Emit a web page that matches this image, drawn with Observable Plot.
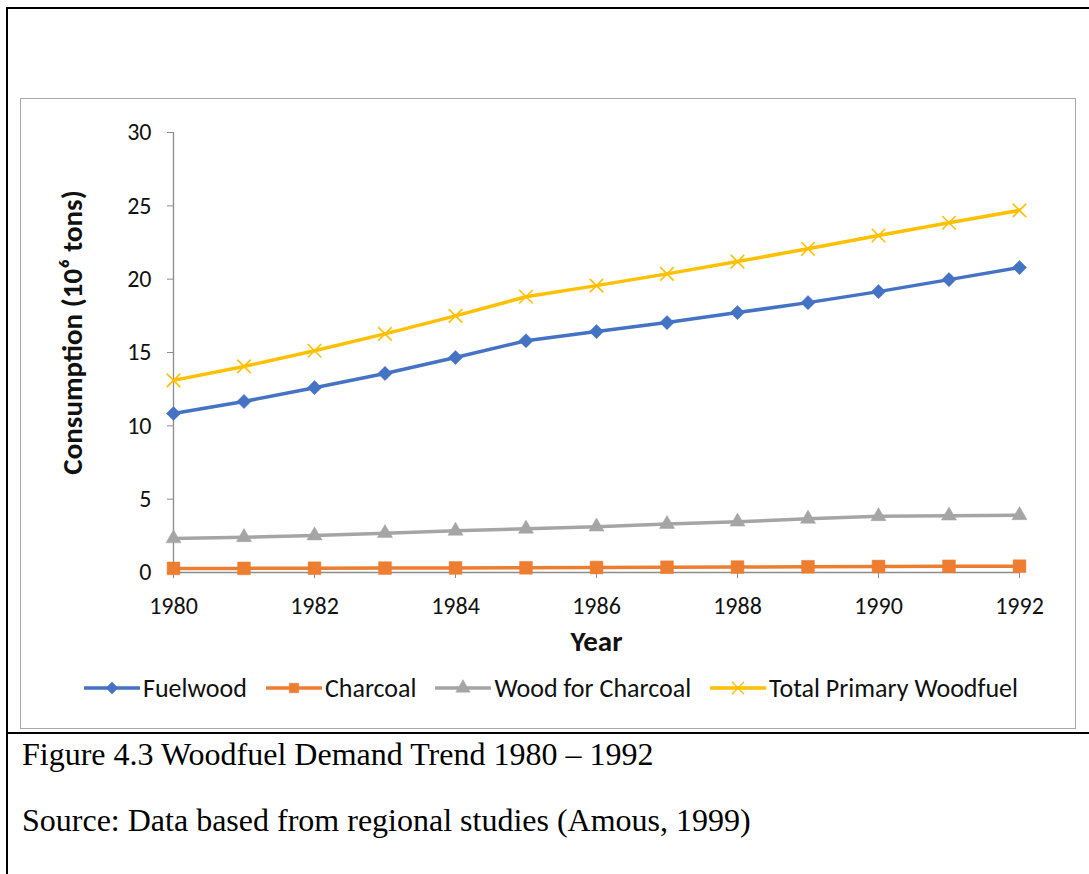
<!DOCTYPE html>
<html>
<head>
<meta charset="utf-8">
<script src="https://cdn.jsdelivr.net/npm/d3@7"></script>
<script src="https://cdn.jsdelivr.net/npm/@observablehq/plot@0.6"></script>
<style>
  html, body { margin: 0; padding: 0; background: #fff; }
  #page { position: relative; width: 1089px; height: 874px; overflow: hidden; font-family: Calibri, Carlito, Lato, sans-serif; }
  .rule { position: absolute; background: #000; }
  #box { position: absolute; left: 20px; top: 98px; width: 1056px; height: 631px; box-sizing: border-box; border: 1.5px solid #a9a9a9; }
  #chart { position: absolute; left: 0; top: 0; }
  #legend { position: absolute; left: 84px; width: 934px; top: 674px; height: 28px; display: flex; justify-content: space-between; align-items: center; font-size: 26px; color: #111; }
  .item { display: flex; align-items: center; gap: 3px; white-space: nowrap; }
  .cap { position: absolute; left: 22px; font-family: "Times New Roman", "Liberation Serif", serif; font-size: 32px; line-height: 32px; color: #000; white-space: nowrap; }
</style>
</head>
<body>
<div id="page">
  <div class="rule" style="left:6px; top:7px; width:1083px; height:2px;"></div>
  <div class="rule" style="left:6px; top:7px; width:2px; height:867px;"></div>
  <div id="box"></div>
  <div id="chart"></div>
  <div id="legend"></div>
  <div class="rule" style="left:6px; top:732px; width:1083px; height:2px;"></div>
  <div class="cap" style="top:738px;">Figure 4.3 Woodfuel Demand Trend 1980 – 1992</div>
  <div class="cap" style="top:804px;">Source: Data based from regional studies (Amous, 1999)</div>
</div>
<script>
// Woodfuel consumption, million tons per year
const years = [1980, 1981, 1982, 1983, 1984, 1985, 1986, 1987, 1988, 1989, 1990, 1991, 1992];
const fuelwood = [10.84, 11.66, 12.60, 13.57, 14.66, 15.80, 16.43, 17.04, 17.72, 18.40, 19.15, 19.97, 20.79];
const charcoal = [0.28, 0.28, 0.29, 0.30, 0.31, 0.32, 0.34, 0.36, 0.37, 0.39, 0.41, 0.42, 0.43];
const woodForCharcoal = [2.32, 2.40, 2.52, 2.68, 2.84, 2.98, 3.12, 3.30, 3.46, 3.66, 3.83, 3.87, 3.90];
const totalPrimary = [13.10, 14.05, 15.12, 16.27, 17.50, 18.80, 19.56, 20.36, 21.20, 22.07, 22.98, 23.85, 24.69];

const seriesNames = ["Fuelwood", "Charcoal", "Wood for Charcoal", "Total Primary Woodfuel"];
const seriesValues = [fuelwood, charcoal, woodForCharcoal, totalPrimary];
const seriesColors = ["#4472C4", "#ED7D31", "#A5A5A5", "#FFC000"];
const seriesSymbols = ["diamond2", "square", "triangle", "times"];

const xTicks = [1980, 1982, 1984, 1986, 1988, 1990, 1992];
const yTicks = [0, 5, 10, 15, 20, 25, 30];
const xTitle = "Year";
const yTitle = "Consumption (10⁶ tons)";

const rows = seriesNames.map((name, i) =>
  years.map((year, j) => ({series: name, year, value: seriesValues[i][j]}))
);

const axisGray = "#8c8c8c";
const font = "Calibri, Carlito, Lato, sans-serif";

const seriesMarks = rows.flatMap((data, i) => {
  const sym = seriesSymbols[i];
  const stroked = sym === "times";
  const r = {diamond2: 6.4, square: 7.2, triangle: 5.6, times: 6.2}[sym];
  return [
    Plot.line(data, {x: "year", y: "value", stroke: seriesColors[i], strokeWidth: 3.5, strokeLinejoin: "round", strokeLinecap: "round"}),
    Plot.dot(data, {
      x: "year", y: "value", symbol: () => sym, r,
      fill: stroked ? "none" : seriesColors[i],
      stroke: seriesColors[i],
      strokeWidth: stroked ? 1.6 : 0.5
    })
  ];
});

const chart = Plot.plot({
  width: 1089,
  height: 680,
  marginLeft: 173,
  marginRight: 70,
  marginTop: 132,
  marginBottom: 108,
  style: {background: "none", fontFamily: font, overflow: "visible"},
  x: {domain: [1980, 1992]},
  y: {domain: [0, 30]},
  symbol: {type: "identity"},
  marks: [
    Plot.ruleX([1980], {stroke: axisGray, strokeWidth: 1.3}),
    Plot.ruleY([0], {stroke: axisGray, strokeWidth: 1.3}),
    Plot.axisX({ticks: xTicks, tickFormat: "d", tickSize: 6, tickPadding: 18, stroke: axisGray, fill: "#111", fontSize: 24, label: null}),
    Plot.axisY({ticks: yTicks, tickSize: 6, tickPadding: 16, stroke: axisGray, fill: "#111", fontSize: 24, label: null}),
    Plot.text([xTitle], {text: d => d, frameAnchor: "bottom", dy: 78, fontSize: 29, fontWeight: "bold", fill: "#111"}),
    Plot.text([yTitle], {text: d => d, frameAnchor: "left", textAnchor: "middle", dx: -101, dy: -20, rotate: -90, fontSize: 29, fontWeight: "bold", fill: "#111"}),
    ...seriesMarks
  ]
});
document.getElementById("chart").appendChild(chart);

// Legend: line swatch with the series marker in its middle
const legend = d3.select("#legend");
seriesNames.forEach((name, i) => {
  const item = legend.append("div").attr("class", "item");
  const svg = item.append("svg").attr("width", 56).attr("height", 20);
  svg.append("line").attr("x1", 1).attr("x2", 55).attr("y1", 10).attr("y2", 10)
    .attr("stroke", seriesColors[i]).attr("stroke-width", 3.5).attr("stroke-linecap", "round");
  const symType = {diamond2: d3.symbolDiamond2, square: d3.symbolSquare, triangle: d3.symbolTriangle, times: d3.symbolTimes}[seriesSymbols[i]];
  const stroked = seriesSymbols[i] === "times";
  svg.append("path").attr("transform", "translate(28,10)")
    .attr("d", d3.symbol(symType, stroked ? 100 : 90)())
    .attr("fill", stroked ? "none" : seriesColors[i])
    .attr("stroke", seriesColors[i]).attr("stroke-width", stroked ? 1.4 : 0.5);
  item.append("span").text(name);
});
</script>
</body>
</html>
